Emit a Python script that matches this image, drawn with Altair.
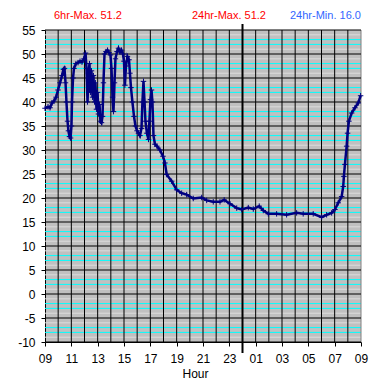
import json
import altair as alt
import pandas as pd

# ---- data ----
hours = [0.00, 0.23, 0.38, 0.53, 0.68, 0.84, 0.99, 1.14, 1.29, 1.40, 1.48, 1.56, 1.63, 1.71, 1.78,
         1.86, 1.94, 2.01, 2.05, 2.13, 2.20, 2.35, 2.51, 2.66, 2.81, 2.96,
         3.08, 3.15, 3.23, 3.30, 3.38, 3.45, 3.53, 3.61, 3.68, 3.76, 3.83, 3.91, 3.99, 4.06, 4.14,
         4.21, 4.29, 4.37, 4.44, 4.52,
         4.63, 4.75, 4.86, 4.97, 5.05, 5.13, 5.20, 5.28, 5.35, 5.47, 5.58, 5.69, 5.81, 5.92, 6.00,
         6.07, 6.15, 6.26, 6.38, 6.45, 6.53, 6.64, 6.76, 6.87, 6.99, 7.10, 7.21, 7.33, 7.40, 7.48,
         7.56, 7.63, 7.74, 7.86, 7.93, 8.01, 8.09, 8.16, 8.24, 8.35, 8.50, 8.73, 8.96, 9.11, 9.24,
         9.62, 10.00, 10.38, 10.76, 11.26, 11.90, 12.28, 12.78, 13.29, 13.61, 14.05, 14.56, 14.94,
         15.44, 15.82, 16.27, 16.58, 16.96, 17.59, 18.35, 19.11, 19.61, 20.37, 21.01, 21.39, 21.77,
         22.02, 22.27, 22.53, 22.65, 22.70, 22.78, 22.91, 22.98, 23.08, 23.29, 23.54, 23.79, 23.97]
temps = [38.7, 39.0, 38.8, 39.8, 40.2, 41.0, 42.5, 44.0, 45.5, 46.8, 47.0, 44.0, 40.0, 36.0, 34.0,
         32.8, 32.5, 35.0, 40.0, 45.0, 47.0, 48.0, 48.2, 48.5, 48.3, 49.0,
         50.2, 47.0, 40.0, 46.0, 48.0, 42.0, 46.5, 41.0, 45.5, 40.0, 44.0, 38.5, 42.0, 37.5, 39.5,
         36.0, 35.7, 37.0, 44.0, 50.0,
         50.5, 50.8, 50.3, 49.8, 47.0, 41.0, 38.0, 44.0, 49.0, 50.5, 51.2, 50.4, 50.8, 50.0, 48.5,
         43.5, 47.5, 49.5, 48.8, 46.0, 43.0, 40.0, 37.0, 35.0, 34.0, 33.5, 33.0, 34.5, 40.0, 44.3,
         40.0, 36.0, 33.5, 32.2, 36.0, 40.5, 42.5, 40.0, 33.0, 31.2, 30.8, 30.0, 28.7, 27.3, 24.9,
         23.5, 21.7, 21.0, 20.7, 19.9, 20.1, 19.5, 19.2, 19.2, 19.6, 18.8, 17.9, 17.6,
         18.0, 17.7, 18.3, 17.4, 16.7, 16.7, 16.5, 16.9, 16.7, 16.7, 16.0, 16.5, 16.9,
         17.6, 19.0, 20.3, 22.4, 24.5, 27.0, 30.8, 33.5, 36.0, 37.7, 38.8, 39.8, 41.3]

x_tick_labels = ["09", "11", "13", "15", "17", "19", "21", "23", "01", "03", "05", "07", "09"]
y_ticks = [-10, -5, 0, 5, 10, 15, 20, 25, 30, 35, 40, 45, 50, 55]
header_texts = ["6hr-Max. 51.2", "24hr-Max. 51.2", "24hr-Min. 16.0"]
header_colors = ["#ff0000", "#ff0000", "#3366ff"]
midnight = [15]

W, H = 316, 312
FONT = "Liberation Sans"

df = pd.DataFrame({"h": hours, "v": temps})

# minor horizontal grid (1 unit), alternating light / cyan as in the reference
minor_v = [v for v in range(-10, 56) if v % 5 != 0]
minor_c = ["#dcdcdc" if v % 5 in (1, 4) else "#00ffff" for v in minor_v]
minor_df = pd.DataFrame({"v": minor_v, "c": minor_c})
major_df = pd.DataFrame({"v": y_ticks})
hour_df = pd.DataFrame({"h": [h for h in range(1, 24) if h != 15]})
edge_df = pd.DataFrame({"h": [24]})
mid_df = pd.DataFrame({"h": midnight})

xscale = alt.Scale(domain=[0, 24], nice=False, zero=False)
yscale = alt.Scale(domain=[-10, 55], nice=False, zero=False)

x_axis = alt.Axis(values=list(range(0, 25, 2)),
                  labelExpr=json.dumps(x_tick_labels) + "[round(datum.value/2)]",
                  grid=False, domainColor="black", domainWidth=1, tickColor="black",
                  tickSize=4, tickWidth=1, labelFontSize=12, labelFont=FONT, labelColor="black",
                  labelPadding=7, labelFlush=False, labelOverlap=False, labelBound=False,
                  title="Hour", titleFont=FONT, titleFontSize=12, titleFontWeight="normal",
                  titleColor="black", titleX=150, titleY=35, titleBaseline="alphabetic",
                  titleAlign="center")
y_axis = alt.Axis(values=y_ticks, labelExpr="toString(datum.value)",
                  grid=False, domainColor="black", domainWidth=1, tickColor="black",
                  tickSize=4, tickWidth=1, labelFontSize=12, labelFont=FONT, labelColor="black",
                  labelPadding=6, labelFlush=False, labelOverlap=False, labelBound=False,
                  title=None)

X = alt.X("h:Q", scale=xscale, axis=x_axis)
Y = alt.Y("v:Q", scale=yscale, axis=y_axis)

minor = alt.Chart(minor_df).mark_rule(strokeWidth=1).encode(
    y=Y, color=alt.Color("c:N", scale=None))
vlines = alt.Chart(hour_df).mark_rule(color="black", strokeWidth=1).encode(x=X)
edge = alt.Chart(edge_df).mark_rule(color="#808080", strokeWidth=1).encode(x=X)
hlines = alt.Chart(major_df).mark_rule(color="black", strokeWidth=1).encode(y=Y)
mid = alt.Chart(mid_df).mark_rule(color="black", strokeWidth=2).encode(
    x=X, y=alt.value(-6), y2=alt.value(H + 11))

line = alt.Chart(df).mark_line(color="#000080", strokeWidth=2.5).encode(x=X, y=Y)
pts = alt.Chart(df).mark_point(shape="M-1,0L1,0M0,-1L0,1", filled=False, color="#000080",
                               size=30, strokeWidth=1, opacity=1).encode(x=X, y=Y)

hx = [9, 147, 245]
texts = []
for t, c, xx in zip(header_texts, header_colors, hx):
    texts.append(alt.Chart(pd.DataFrame({"t": [t]})).mark_text(
        align="left", baseline="alphabetic", font=FONT, fontSize=11, color=c).encode(
        text="t:N", x=alt.value(xx), y=alt.value(-11)))

chart = alt.layer(minor, vlines, edge, hlines, mid, line, pts, *texts).properties(
    width=W, height=H,
    padding={"left": 37, "top": 22, "right": 16, "bottom": 40},
    autosize=alt.AutoSizeParams(type="none"),
    background="white",
).configure_view(fill="#c0c0c0", strokeWidth=0).configure_axis(labelOverlap=False)

chart.save("out.html", embed_options={"renderer": "svg", "actions": False})
